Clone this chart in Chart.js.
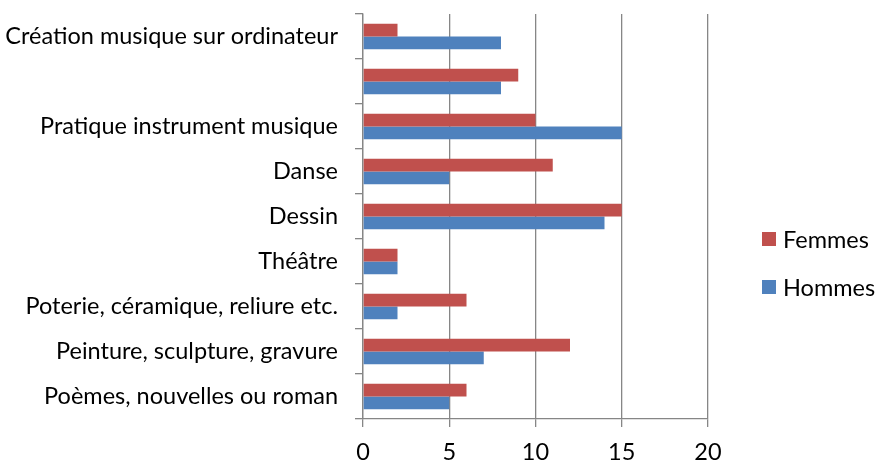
<!DOCTYPE html>
<html>
<head>
<meta charset="utf-8">
<script src="https://cdn.jsdelivr.net/npm/chart.js@4"></script>
<style>
  html, body { margin: 0; padding: 0; background: #fff; }
  #wrap { width: 875px; height: 463px; }
</style>
</head>
<body>
<div id="wrap"><canvas id="chart"></canvas></div>
<script>
// ── Data ──────────────────────────────────────
const categories = [
  'Création musique sur ordinateur',
  '',
  'Pratique instrument musique',
  'Danse',
  'Dessin',
  'Théâtre',
  'Poterie, céramique, reliure etc.',
  'Peinture, sculpture, gravure',
  'Poèmes, nouvelles ou roman'
];
const femmes = [2, 9, 10, 11, 15, 2, 6, 12, 6];
const hommes = [8, 8, 15, 5, 14, 2, 2, 7, 5];
const xTicks = [0, 5, 10, 15, 20];

const RED  = '#C0504D';
const BLUE = '#4F81BD';
const GRID = '#868686';
const FONT = 'Lato, "Open Sans", sans-serif';

Chart.defaults.font.family = FONT;
Chart.defaults.font.size   = 23.5;
Chart.defaults.color       = '#000';

// Legend drawn on the right, Excel style
const sideLegend = {
  id: 'sideLegend',
  afterDraw(chart) {
    const ctx = chart.ctx;
    const x = chart.chartArea.right + 54;
    const rows = [239, 287];
    ctx.save();
    ctx.font = '23.5px ' + FONT;
    ctx.textBaseline = 'middle';
    chart.data.datasets.forEach((ds, i) => {
      ctx.fillStyle = ds.backgroundColor;
      ctx.fillRect(x, rows[i] - 7, 14, 14);
      ctx.fillStyle = '#000';
      ctx.fillText(ds.label, x + 21, rows[i] + 1);
    });
    ctx.restore();
  }
};

new Chart(document.getElementById('chart').getContext('2d'), {
  type: 'bar',
  data: {
    labels: categories,
    datasets: [
      { label: 'Femmes', data: femmes, backgroundColor: RED },
      { label: 'Hommes', data: hommes, backgroundColor: BLUE }
    ]
  },
  options: {
    indexAxis: 'y',
    responsive: true,
    maintainAspectRatio: false,
    animation: false,
    categoryPercentage: 0.57,
    barPercentage: 1.0,
    layout: { padding: { top: 14, right: 167, left: 0, bottom: 0 } },
    plugins: {
      legend:  { display: false },
      tooltip: { enabled: false }
    },
    scales: {
      x: {
        min: 0,
        max: 20,
        afterBuildTicks: s => { s.ticks = xTicks.map(v => ({ value: v })); },
        afterFit: s => { s.height = 44; s.paddingLeft = 0; s.paddingRight = 0; },
        grid:   { color: GRID, lineWidth: 1.3, tickLength: 8 },
        border: { color: GRID, width: 1.3 },
        ticks:  { padding: 11, color: '#000' }
      },
      y: {
        afterFit: s => { s.width = 363; s.paddingTop = 0; s.paddingBottom = 0; },
        grid:   { drawOnChartArea: false, color: GRID, lineWidth: 1.3, tickLength: 8 },
        border: { color: GRID, width: 1.3 },
        ticks:  { padding: 17, color: '#000', autoSkip: false }
      }
    }
  },
  plugins: [sideLegend]
});
</script>
</body>
</html>
